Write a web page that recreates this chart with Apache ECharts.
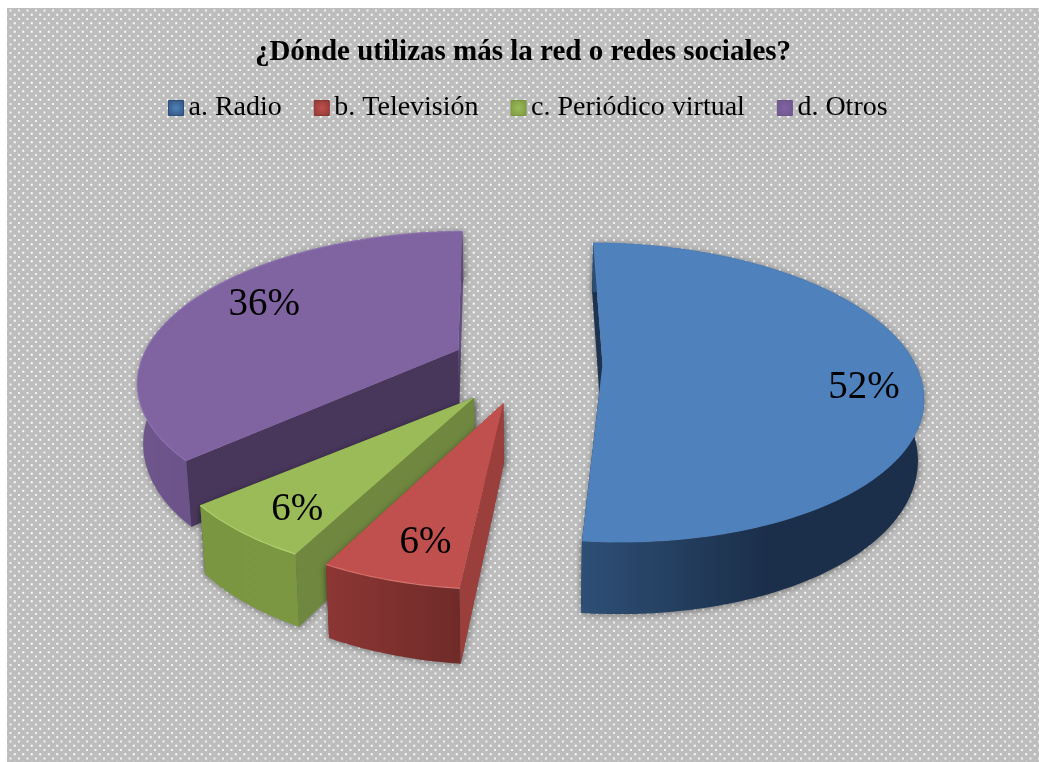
<!DOCTYPE html>
<html><head><meta charset="utf-8">
<script src="https://cdn.jsdelivr.net/npm/echarts@6/dist/echarts.min.js"></script>
<style>html,body{margin:0;padding:0;background:#fff}#c{width:1039px;height:762px}</style>
</head><body><div id="c"></div>
<script>
const titleText = '¿Dónde utilizas más la red o redes sociales?';
const categories = ['a. Radio', 'b. Televisión', 'c. Periódico virtual', 'd. Otros'];
const percentValues = [52, 6, 6, 36];
const topColors = ['#4f81bd', '#c0504d', '#9bbb59', '#8064a2'];
const wallLeftColors = ['#2e4f76', '#8c3634', '#7a9640', '#6e558c'];
const wallRightColors = ['#1b2f4a', '#6f2b29', '#7c9742', '#5f4a7a'];
const radialColors = ['#1d3350', '#9b3f3c', '#6f873f', '#48375b'];
const closeWallColors = ['#1d3350', '#9b3f3c', '#6f873f', '#654e82'];
const edgeColors = ['#4f81bd', '#e07a76', '#b9d873', '#8f73b3'];
const paintOrder = [2, 4, 3, 1];
const labelShift = [9, -2.2, -2.2, 3];
// fine layout adjustments per slice (projection fit, not data)
const sliceRadius = [1, 0.96, 0.95, 1.02];
const sliceNudgeX = [0, 0, -3, 1];
const sliceNudgeY = [0, 5, 6, 1];
const startNudge = [2.1, 0, 0, -2];
const endNudge = [0, 0, 1, 0];
const labelRadius = [0.82, 0.78, 0.784, 0.77];

// projection of the pie plane (perspective camera)
const P = {cx: 526, cy: 363, rx: 312, ry: 143.7, k: 0.188, h: 58.5, taper: 0.985, explode: 0.245, start: -1.5};
const total = percentValues.reduce((a, b) => a + b, 0);
function sliceAngles(i) {
  let a = P.start;
  for (let j = 0; j < i; j++) a += percentValues[j] / total * 360;
  return [a, a + percentValues[i] / total * 360];
}
function project(X, Y, low) {
  const w = 1 + P.k * Y;
  const u = P.rx * X / w, v = -P.ry * Y / w;
  return low ? [P.cx + u * P.taper, P.cy + v + P.h / w] : [P.cx + u, P.cy + v];
}
const rad = d => d * Math.PI / 180;
function renderSlice(i) {
  return function (params, api) {
    const [a00, a01] = sliceAngles(i);
    const mid = (a00 + a01) / 2;
    const a0 = a00 + startNudge[i], a1 = a01 + endNudge[i];
    const ox = P.explode * Math.sin(rad(mid)), oy = P.explode * Math.cos(rad(mid));
    const at = (deg, r, low) => {
      const p = project(ox + r * Math.sin(rad(deg)), oy + r * Math.cos(rad(deg)), low);
      return [p[0] + sliceNudgeX[i], p[1] + sliceNudgeY[i]];
    };
    const arcTop = [], arcLow = [];
    const n = Math.ceil(a1 - a0);
    const R = sliceRadius[i];
    for (let s = 0; s <= n; s++) {
      const d = a0 + (a1 - a0) * s / n;
      arcTop.push(at(d, R, false));
      arcLow.push(at(d, R, true));
    }
    const tipTop = at(0, 0, false), tipLow = at(0, 0, true);
    const xs = arcLow.map(p => p[0]);
    const minX = Math.min(...xs), maxX = Math.max(...xs);
    const shadow = {shadowBlur: 7, shadowColor: 'rgba(0,0,0,0.4)', shadowOffsetX: 1, shadowOffsetY: 1};
    const base = paintOrder[i] * 10;
    const kids = [];
    kids.push({type: 'polygon', z2: base, shape: {points: [tipTop, arcTop[n], arcLow[n], tipLow]},
      style: Object.assign({fill: closeWallColors[i]}, shadow)});
    kids.push({type: 'polygon', z2: base, shape: {points: [tipTop, arcTop[0], arcLow[0], tipLow]},
      style: Object.assign({fill: closeWallColors[i]}, shadow)});
    kids.push({type: 'polygon', z2: base + 1, shape: {points: arcTop.concat(arcLow.slice().reverse())},
      style: Object.assign({
        fill: {type: 'linear', global: true, x: minX, y: 0, x2: maxX, y2: 0,
          colorStops: i === 0
            ? [{offset: 0, color: wallLeftColors[i]}, {offset: 0.55, color: wallRightColors[i]}, {offset: 1, color: wallRightColors[i]}]
            : [{offset: 0, color: wallLeftColors[i]}, {offset: 1, color: wallRightColors[i]}]}
      }, shadow)});
    if (i !== 0) {
      kids.push({type: 'polygon', z2: base + 2, shape: {points: [tipTop, arcTop[0], arcLow[0], tipLow]},
        style: {fill: radialColors[i]}});
    }
    kids.push({type: 'polygon', z2: base + 3, shape: {points: [tipTop].concat(arcTop)},
      style: {fill: topColors[i]}});
    kids.push({type: 'polyline', z2: base + 4, shape: {points: arcTop},
      style: {fill: 'none', stroke: edgeColors[i], lineWidth: 1.2, opacity: 0.8}});
    const lp = at(mid + labelShift[i], labelRadius[i], false);
    kids.push({type: 'text', z2: 100, x: lp[0], y: lp[1],
      style: {text: api.value(0) + '%', fill: '#000', font: '39px "Liberation Serif"', align: 'center', verticalAlign: 'middle'}});
    return {type: 'group', children: kids};
  };
}

const tile = document.createElement('canvas');
tile.width = 17; tile.height = 17;
(function () {
  const g = tile.getContext('2d');
  g.fillStyle = '#bdbdbd';
  g.fillRect(0, 0, 17, 17);
  for (let r = 0; r < 4; r++) {
    for (let c = 0; c < 2; c++) {
      const x = c * 8.5 + (r % 2 ? 4.25 : 0) + 1, y = r * 4.25 + 1;
      g.fillStyle = r % 2 ? 'rgba(255,255,255,0.95)' : 'rgba(255,255,255,0.8)';
      g.fillRect(x, y, 2, 2);
    }
  }
})();

const chart = echarts.init(document.getElementById('c'), null, {renderer: 'canvas'});
chart.setOption({
  animation: false,
  backgroundColor: '#ffffff',
  graphic: [{type: 'rect', z: -10, silent: true, shape: {x: 7, y: 8, width: 1032, height: 754}, style: {fill: {image: tile, repeat: 'repeat'}}}],
  title: {text: titleText, left: 518, top: 33, textAlign: 'center',
    textStyle: {fontFamily: '"Liberation Serif"', fontWeight: 'bold', fontSize: 29, color: '#000'}},
  legend: {left: 163, top: 89, itemWidth: 15, itemHeight: 15, itemGap: 32, icon: 'rect',
    textStyle: {fontFamily: '"Liberation Serif"', fontSize: 28, color: '#000'},
    data: categories.map((name, i) => ({name, itemStyle: {
      color: {type: 'radial', x: 0.5, y: 0.5, r: 0.7, colorStops: [{offset: 0, color: topColors[i]}, {offset: 1, color: wallLeftColors[i]}]},
      borderColor: wallLeftColors[i], borderWidth: 1}}))},
  series: categories.map((name, i) => ({
    type: 'custom', name, coordinateSystem: 'none', z: paintOrder[i] + 2,
    itemStyle: {color: topColors[i]},
    data: [[percentValues[i]]],
    renderItem: renderSlice(i)
  }))
});
</script></body></html>
